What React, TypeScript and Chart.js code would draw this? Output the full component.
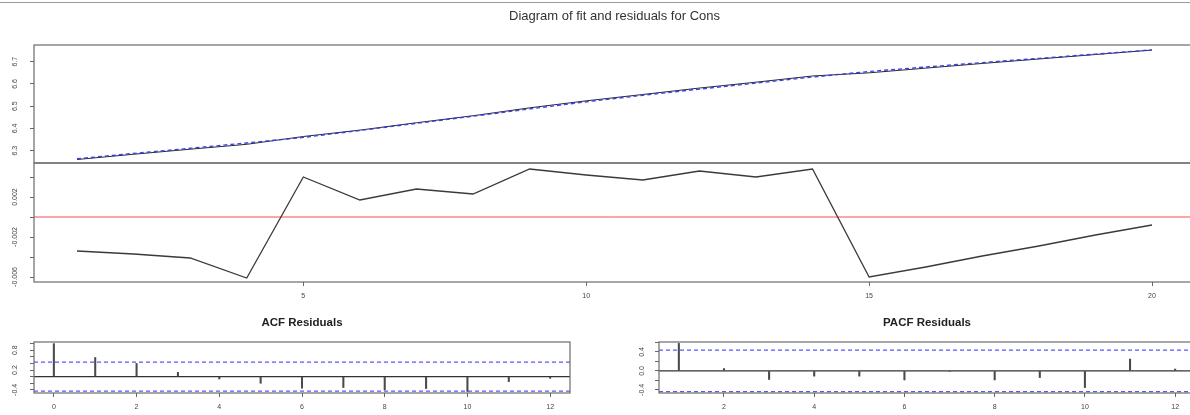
import React, { useEffect, useRef } from 'react';
import { Chart, registerables } from 'chart.js';

Chart.register(...registerables);

// ---------- data ----------
const periods = [1, 2, 3, 4, 5, 6, 7, 8, 9, 10, 11, 12, 13, 14, 15, 16, 17, 18, 19, 20];
const consActual = [6.2606, 6.2843, 6.3069, 6.3289, 6.364, 6.3927, 6.4258, 6.4573, 6.4928, 6.5242, 6.5527, 6.5816, 6.608, 6.6358, 6.65, 6.671, 6.6921, 6.7121, 6.7322, 6.7522];
const consFitted = [6.264, 6.288, 6.311, 6.335, 6.36, 6.391, 6.423, 6.455, 6.488, 6.52, 6.549, 6.577, 6.604, 6.631, 6.656, 6.676, 6.696, 6.715, 6.734, 6.753];
const residuals = [-0.0034, -0.0037, -0.0041, -0.0061, 0.004, 0.0017, 0.0028, 0.0023, 0.0048, 0.0042, 0.0037, 0.0046, 0.004, 0.0048, -0.006, -0.005, -0.0039, -0.0029, -0.0018, -0.0008];

const fitTickValues = [6.3, 6.4, 6.5, 6.6, 6.7];
const fitTickLabels = ['6.3', '6.4', '6.5', '6.6', '6.7'];
const residTickValues = [-0.006, -0.004, -0.002, 0, 0.002, 0.004];
const residTickLabels = ['-0.006', '', '-0.002', '', '0.002', ''];
const timeTickValues = [5, 10, 15, 20];
const timeTickLabels = ['5', '10', '15', '20'];

const acfLags = [0, 1, 2, 3, 4, 5, 6, 7, 8, 9, 10, 11, 12];
const acfValues = [1.0, 0.58, 0.4, 0.13, -0.07, -0.2, -0.35, -0.33, -0.4, -0.36, -0.45, -0.15, -0.05];
const pacfLags = [1, 2, 3, 4, 5, 6, 7, 8, 9, 10, 11, 12];
const pacfValues = [0.58, 0.05, -0.18, -0.11, -0.11, -0.19, -0.01, -0.19, -0.14, -0.35, 0.25, 0.04];
const confLimit = 0.438;

const acfTickValues = [-0.4, -0.2, 0, 0.2, 0.4, 0.6, 0.8, 1.0];
const acfTickLabels = ['-0.4', '', '', '0.2', '', '', '0.8', ''];
const pacfTickValues = [-0.4, -0.2, 0, 0.2, 0.4, 0.6];
const pacfTickLabels = ['-0.4', '', '0.0', '', '0.4', ''];
const acfLagTickValues = [0, 2, 4, 6, 8, 10, 12];
const acfLagTickLabels = ['0', '2', '4', '6', '8', '10', '12'];
const pacfLagTickValues = [2, 4, 6, 8, 10, 12];
const pacfLagTickLabels = ['2', '4', '6', '8', '10', '12'];

const mainTitle = 'Diagram of fit and residuals for Cons';
const acfTitle = 'ACF Residuals';
const pacfTitle = 'PACF Residuals';

// ---------- styling helpers ----------
const FONT = '"Liberation Sans", Arial, Helvetica, sans-serif';
const tickFont = { family: FONT, size: 7 };
const W = 1200;
const H = 415;

const framePlugin = {
  id: 'frame',
  afterDraw(chart: any, _args: any, opts: any) {
    const { ctx, chartArea } = chart;
    ctx.save();
    ctx.strokeStyle = opts.color || '#707070';
    ctx.lineWidth = opts.width || 1.2;
    ctx.strokeRect(chartArea.left, chartArea.top, chartArea.right - chartArea.left, chartArea.bottom - chartArea.top);
    ctx.restore();
  },
};

const refLinePlugin = {
  id: 'refLines',
  beforeDatasetsDraw(chart: any, _args: any, opts: any) {
    const lines = (opts && opts.lines) || [];
    const { ctx, chartArea, scales } = chart;
    ctx.save();
    ctx.beginPath();
    ctx.rect(chartArea.left, chartArea.top, chartArea.right - chartArea.left, chartArea.bottom - chartArea.top);
    ctx.clip();
    for (const l of lines) {
      const y = scales.y.getPixelForValue(l.value);
      ctx.beginPath();
      ctx.strokeStyle = l.color;
      ctx.lineWidth = l.width || 1;
      ctx.setLineDash(l.dash || []);
      ctx.moveTo(chartArea.left, y);
      ctx.lineTo(chartArea.right, y);
      ctx.stroke();
    }
    ctx.restore();
  },
};

function yScale(min: number, max: number, values: number[], labels: string[], pad: number) {
  return {
    type: 'linear',
    min,
    max,
    afterBuildTicks: (s: any) => {
      s.ticks = values.map((v) => ({ value: v }));
    },
    afterFit: (s: any) => {
      s.width = 34;
    },
    ticks: {
      autoSkip: false,
      minRotation: 90,
      maxRotation: 90,
      crossAlign: 'center',
      padding: pad,
      font: tickFont,
      color: '#444',
      callback: (v: number) => {
        const i = values.indexOf(v);
        return i >= 0 ? labels[i] : '';
      },
    },
    grid: { display: true, drawOnChartArea: false, drawTicks: true, tickLength: 4, tickColor: '#666', tickWidth: 1 },
    border: { display: false },
  };
}

function xScale(min: number, max: number, values: number[], labels: string[], show: boolean) {
  return {
    type: 'linear',
    min,
    max,
    offset: false,
    display: show,
    afterBuildTicks: (s: any) => {
      s.ticks = values.map((v) => ({ value: v }));
    },
    afterFit: (s: any) => {
      s.height = show ? 20 : 0;
    },
    ticks: {
      autoSkip: false,
      minRotation: 0,
      maxRotation: 0,
      padding: 6,
      font: tickFont,
      color: '#444',
      callback: (v: number) => {
        const i = values.indexOf(v);
        return i >= 0 ? labels[i] : '';
      },
    },
    grid: { display: true, offset: false, drawOnChartArea: false, drawTicks: true, tickLength: 4, tickColor: '#666', tickWidth: 1 },
    border: { display: false },
  };
}

function baseOptions(padding: any, title: any, scales: any, refLines: any[]) {
  return {
    animation: false,
    responsive: false,
    maintainAspectRatio: false,
    events: [],
    layout: { padding },
    scales,
    plugins: {
      legend: { display: false },
      tooltip: { enabled: false },
      title: title || { display: false },
      frame: { color: '#6c6c6c', width: 1.2 },
      refLines: { lines: refLines },
    },
  };
}

export default function App() {
  const fitRef = useRef<HTMLCanvasElement>(null);
  const resRef = useRef<HTMLCanvasElement>(null);
  const acfRef = useRef<HTMLCanvasElement>(null);
  const pacfRef = useRef<HTMLCanvasElement>(null);

  useEffect(() => {
    const charts: Chart[] = [];

    // Fit panel
    charts.push(
      new Chart(fitRef.current as HTMLCanvasElement, {
        type: 'line',
        data: {
          datasets: [
            {
              label: 'fitted',
              data: periods.map((p, i) => ({ x: p, y: consFitted[i] })),
              borderColor: 'rgba(55,55,235,0.95)',
              borderWidth: 1.4,
              borderDash: [4, 3],
              pointRadius: 0,
              tension: 0,
            },
            {
              label: 'actual',
              data: periods.map((p, i) => ({ x: p, y: consActual[i] })),
              borderColor: '#2a2a2a',
              borderWidth: 1,
              pointRadius: 0,
              tension: 0,
            },
          ],
        },
        options: baseOptions(
          { top: 0, left: 0, right: 5, bottom: 252 },
          {
            display: true,
            text: mainTitle,
            fullSize: false,
            color: '#333',
            font: { family: FONT, size: 13, weight: 'normal' },
            padding: { top: 8.2, bottom: 21.2 },
          },
          {
            x: xScale(0.24, 20.76, timeTickValues, timeTickLabels, false),
            y: yScale(6.245, 6.775, fitTickValues, fitTickLabels, 10.5),
          },
          []
        ) as any,
        plugins: [framePlugin, refLinePlugin],
      })
    );

    // Residual panel
    charts.push(
      new Chart(resRef.current as HTMLCanvasElement, {
        type: 'line',
        data: {
          datasets: [
            {
              label: 'residuals',
              data: periods.map((p, i) => ({ x: p, y: residuals[i] })),
              borderColor: '#3a3a3a',
              borderWidth: 1.3,
              pointRadius: 0,
              tension: 0,
            },
          ],
        },
        options: baseOptions(
          { top: 163, left: 0, right: 5, bottom: 113 },
          null,
          {
            x: xScale(0.24, 20.76, timeTickValues, timeTickLabels, true),
            y: yScale(-0.0065, 0.0054, residTickValues, residTickLabels, 4.8),
          },
          [{ value: 0, color: '#ff4a4a', width: 1 }]
        ) as any,
        plugins: [framePlugin, refLinePlugin],
      })
    );

    // ACF panel
    charts.push(
      new Chart(acfRef.current as HTMLCanvasElement, {
        type: 'bar',
        data: {
          datasets: [
            {
              label: 'acf',
              data: acfLags.map((l, i) => ({ x: l, y: acfValues[i] })),
              backgroundColor: '#4a4a4a',
              barThickness: 1.4,
            },
          ],
        },
        options: baseOptions(
          { top: 300, left: 0, right: 630, bottom: 2 },
          {
            display: true,
            text: acfTitle,
            fullSize: false,
            color: '#222',
            font: { family: FONT, size: 11.5, weight: 'bold' },
            padding: { top: 16.1, bottom: 12.1 },
          },
          {
            x: xScale(-0.48, 12.48, acfLagTickValues, acfLagTickLabels, true),
            y: yScale(-0.495, 1.05, acfTickValues, acfTickLabels, 9.4),
          },
          [
            { value: 0, color: '#333', width: 1.2 },
            { value: confLimit, color: 'rgba(70,70,255,0.9)', width: 1.2, dash: [4, 3] },
            { value: -confLimit, color: 'rgba(70,70,255,0.9)', width: 1.2, dash: [4, 3] },
          ]
        ) as any,
        plugins: [framePlugin, refLinePlugin],
      })
    );

    // PACF panel
    charts.push(
      new Chart(pacfRef.current as HTMLCanvasElement, {
        type: 'bar',
        data: {
          datasets: [
            {
              label: 'pacf',
              data: pacfLags.map((l, i) => ({ x: l, y: pacfValues[i] })),
              backgroundColor: '#4a4a4a',
              barThickness: 1.4,
            },
          ],
        },
        options: baseOptions(
          { top: 300, left: 625, right: 5, bottom: 2 },
          {
            display: true,
            text: pacfTitle,
            fullSize: false,
            color: '#222',
            font: { family: FONT, size: 11.5, weight: 'bold' },
            padding: { top: 16.1, bottom: 12.1 },
          },
          {
            x: xScale(0.56, 12.44, pacfLagTickValues, pacfLagTickLabels, true),
            y: yScale(-0.465, 0.61, pacfTickValues, pacfTickLabels, 7.4),
          },
          [
            { value: 0, color: '#333', width: 1.2 },
            { value: confLimit, color: 'rgba(70,70,255,0.9)', width: 1.2, dash: [4, 3] },
            { value: -confLimit, color: 'rgba(70,70,255,0.9)', width: 1.2, dash: [4, 3] },
          ]
        ) as any,
        plugins: [framePlugin, refLinePlugin],
      })
    );

    return () => {
      charts.forEach((c) => c.destroy());
    };
  }, []);

  const canvasStyle: React.CSSProperties = { position: 'absolute', left: 0, top: 0, width: W, height: H };

  return (
    <div
      style={{
        position: 'absolute',
        left: 0,
        top: 0,
        width: 1190,
        height: 415,
        overflow: 'hidden',
        background: '#ffffff',
      }}
    >
      <div style={{ position: 'absolute', left: 0, top: 2, width: 1190, height: 0, borderTop: '1px solid #9a9a9a' }} />
      <canvas ref={fitRef} width={W} height={H} style={canvasStyle} />
      <canvas ref={resRef} width={W} height={H} style={canvasStyle} />
      <canvas ref={acfRef} width={W} height={H} style={canvasStyle} />
      <canvas ref={pacfRef} width={W} height={H} style={canvasStyle} />
    </div>
  );
}
